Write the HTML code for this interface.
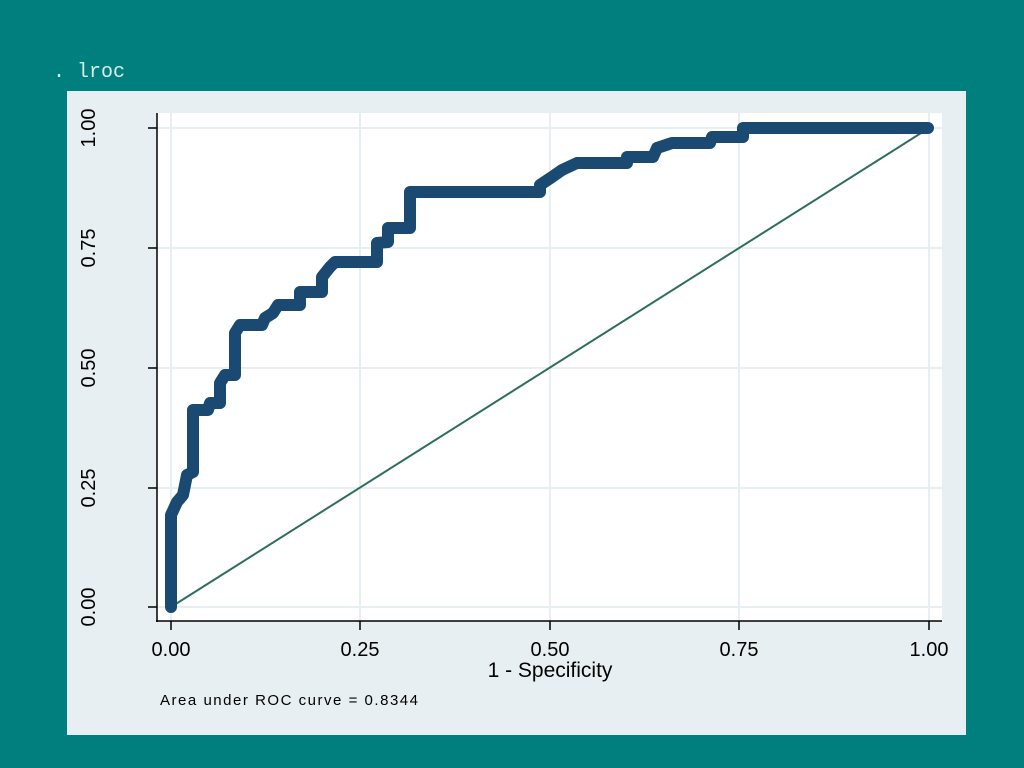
<!DOCTYPE html>
<html><head><style>
html,body{margin:0;padding:0;background:#007f7f;width:1024px;height:768px;overflow:hidden}
</style></head><body>
<svg width="1024" height="768" viewBox="0 0 1024 768" xmlns="http://www.w3.org/2000/svg">
<rect width="1024" height="768" fill="#007f7f"/>
<text x="53" y="77" font-family="'Liberation Mono', 'Courier New', Courier, monospace" font-size="20" fill="#d8ecec">. lroc</text>
<rect x="67" y="91" width="899" height="644" fill="#e8eff2"/>
<rect x="157" y="113" width="785" height="508" fill="#ffffff"/>
<g stroke="#e8eff2" stroke-width="2">
<line x1="157" y1="128" x2="942" y2="128"/><line x1="157" y1="248" x2="942" y2="248"/>
<line x1="157" y1="368" x2="942" y2="368"/><line x1="157" y1="488" x2="942" y2="488"/>
<line x1="157" y1="607" x2="942" y2="607"/>
<line x1="171" y1="113" x2="171" y2="621"/><line x1="360" y1="113" x2="360" y2="621"/>
<line x1="550" y1="113" x2="550" y2="621"/><line x1="739" y1="113" x2="739" y2="621"/>
<line x1="929" y1="113" x2="929" y2="621"/>
</g>
<g stroke="#000" stroke-width="1.5">
<line x1="157" y1="113" x2="157" y2="622"/><line x1="156" y1="621" x2="942" y2="621"/>
<line x1="148" y1="128" x2="157" y2="128"/><line x1="148" y1="248" x2="157" y2="248"/>
<line x1="148" y1="368" x2="157" y2="368"/><line x1="148" y1="488" x2="157" y2="488"/>
<line x1="148" y1="607" x2="157" y2="607"/>
<line x1="171" y1="621" x2="171" y2="630"/><line x1="360" y1="621" x2="360" y2="630"/>
<line x1="550" y1="621" x2="550" y2="630"/><line x1="739" y1="621" x2="739" y2="630"/>
<line x1="929" y1="621" x2="929" y2="630"/>
</g>
<g font-family="'Liberation Sans', sans-serif" font-size="20" fill="#000" text-anchor="middle">
<text x="171" y="656">0.00</text><text x="360" y="656">0.25</text><text x="550" y="656">0.50</text>
<text x="739" y="656">0.75</text><text x="929" y="656">1.00</text>
<text transform="translate(95,128) rotate(-90)">1.00</text>
<text transform="translate(95,248) rotate(-90)">0.75</text>
<text transform="translate(95,368) rotate(-90)">0.50</text>
<text transform="translate(95,488) rotate(-90)">0.25</text>
<text transform="translate(95,607) rotate(-90)">0.00</text>
<text x="550" y="677" font-size="21">1 - Specificity</text>
</g>
<text x="160" y="705" font-family="'Liberation Sans', sans-serif" font-size="15" textLength="258" fill="#000">Area under ROC curve = 0.8344</text>
<line x1="171" y1="607" x2="929" y2="128" stroke="#2e6e5e" stroke-width="2"/>
<polyline fill="none" stroke="#1a4a72" stroke-width="12" stroke-linejoin="round" stroke-linecap="round"
points="171,607 171,515 177,502 183,495 187,475 193,472 193,410 208,410 210,403 220,403 220,383 225,375 235,375 235,333 240,325 262,325 265,318 273,313 278,305 300,305 300,292 322,292 322,277 330,267 335,262 377,262 377,243 388,242 388,228 410,228 410,192 540,192 540,185 552,177 562,170 577,163 627,163 627,157 653,157 657,148 672,143 710,143 712,137 743,137 743,128 928,128"/>
</svg>
</body></html>
